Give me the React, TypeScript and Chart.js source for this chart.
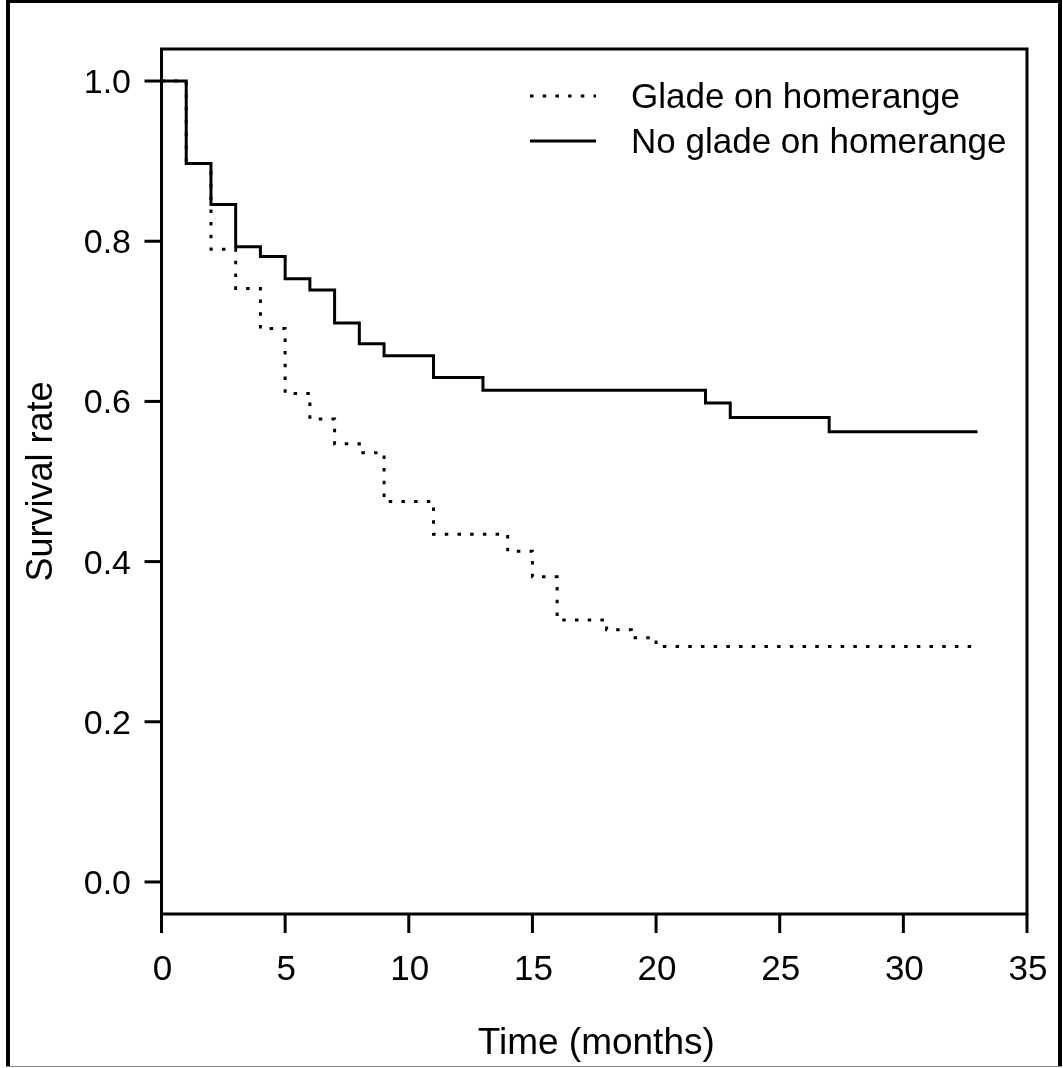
import { useEffect, useRef } from "react";
import { Chart, registerables } from "chart.js";

Chart.register(...registerables);

const noGladeTimes = [0, 1, 2, 3, 4, 5, 6, 7, 8, 9, 11, 13, 22, 23, 27, 33];
const noGladeSurvival = [1, 0.897, 0.846, 0.793, 0.781, 0.753, 0.739, 0.698, 0.672, 0.657, 0.63, 0.614, 0.598, 0.58, 0.562, 0.562];
const gladeTimes = [0, 1, 2, 3, 4, 5, 6, 7, 8, 9, 11, 14, 15, 16, 18, 19, 20, 33];
const gladeSurvival = [1, 0.897, 0.79, 0.741, 0.691, 0.61, 0.578, 0.547, 0.536, 0.475, 0.434, 0.413, 0.381, 0.327, 0.315, 0.305, 0.294, 0.294];
const xTicks = [0, 5, 10, 15, 20, 25, 30, 35];
const yTicks = [0, 0.2, 0.4, 0.6, 0.8, 1.0];
const yTickLabels = ["0.0", "0.2", "0.4", "0.6", "0.8", "1.0"];
const seriesLabels = ["Glade on homerange", "No glade on homerange"];
const xTitle = "Time (months)";
const yTitle = "Survival rate";

const FAMILY = "'Liberation Sans', Arial, sans-serif";

const rPlot = {
  id: "rPlot",
  afterDraw(chart: any) {
    const ctx = chart.ctx as CanvasRenderingContext2D;
    const { left, right, top, bottom } = chart.chartArea;
    const xs = chart.scales.x;
    const ys = chart.scales.y;
    ctx.save();
    ctx.strokeStyle = "#000";
    ctx.fillStyle = "#000";
    ctx.lineWidth = 3;
    ctx.lineCap = "butt";
    ctx.setLineDash([]);
    // box
    ctx.strokeRect(left, top, right - left, bottom - top);
    // y ticks
    ctx.font = "34px " + FAMILY;
    ctx.textAlign = "right";
    ctx.textBaseline = "alphabetic";
    yTicks.forEach((v, i) => {
      const y = ys.getPixelForValue(v);
      ctx.beginPath();
      ctx.moveTo(left - 17, y);
      ctx.lineTo(left, y);
      ctx.stroke();
      ctx.fillText(yTickLabels[i], 131, y + 12);
    });
    // x ticks
    ctx.textAlign = "center";
    ctx.font = "35px " + FAMILY;
    xTicks.forEach((v) => {
      const x = xs.getPixelForValue(v);
      ctx.beginPath();
      ctx.moveTo(x, bottom);
      ctx.lineTo(x, bottom + 19);
      ctx.stroke();
      ctx.fillText(String(v), x + 1, 980);
    });
    // titles
    ctx.font = "37px " + FAMILY;
    ctx.fillText(xTitle, (left + right) / 2 + 2, 1054);
    ctx.save();
    ctx.font = "36px " + FAMILY;
    ctx.translate(52, (top + bottom) / 2);
    ctx.rotate(-Math.PI / 2);
    ctx.textAlign = "center";
    ctx.fillText(yTitle, 0, 0);
    ctx.restore();
    // legend
    const legY = [96, 141];
    ctx.font = "35px " + FAMILY;
    ctx.textAlign = "left";
    legY.forEach((y, i) => {
      ctx.beginPath();
      ctx.setLineDash(i === 0 ? [3.5, 9.2] : []);
      ctx.moveTo(530, y);
      ctx.lineTo(596, y);
      ctx.stroke();
      ctx.setLineDash([]);
      ctx.fillText(seriesLabels[i], 631, y + 12);
    });
    // outer frame
    ctx.fillStyle = "#000";
    ctx.fillRect(6, 0, 4, 1066);
    ctx.fillRect(6, 0, 1056, 3);
    ctx.fillRect(1058, 0, 4, 1066);
    ctx.fillStyle = "#888";
    ctx.fillRect(6, 1066, 1056, 1);
    ctx.restore();
  },
};

export default function App() {
  const ref = useRef<HTMLCanvasElement | null>(null);
  useEffect(() => {
    if (!ref.current) return;
    const chart = new Chart(ref.current, {
      type: "line",
      data: {
        datasets: [
          {
            label: seriesLabels[0],
            data: gladeTimes.map((t, i) => ({ x: t, y: gladeSurvival[i] })),
            borderColor: "#000",
            borderWidth: 3,
            borderDash: [3.5, 9.2],
            borderCapStyle: "butt",
            stepped: "before",
            pointRadius: 0,
            fill: false,
          },
          {
            label: seriesLabels[1],
            data: noGladeTimes.map((t, i) => ({ x: t, y: noGladeSurvival[i] })),
            borderColor: "#000",
            borderWidth: 3,
            borderCapStyle: "butt",
            borderJoinStyle: "miter",
            stepped: "before",
            pointRadius: 0,
            fill: false,
          },
        ],
      },
      options: {
        animation: false,
        responsive: false,
        layout: { padding: { left: 161.5, right: 36, top: 49, bottom: 154 } },
        scales: {
          x: { type: "linear", min: 0, max: 35, display: false },
          y: { type: "linear", min: -0.04, max: 1.04, display: false },
        },
        plugins: { legend: { display: false }, tooltip: { enabled: false } },
      },
      plugins: [rPlot],
    } as any);
    return () => chart.destroy();
  }, []);
  return (
    <div style={{ position: "fixed", left: 0, top: 0, width: 1063, height: 1068, background: "#fff" }}>
      <canvas ref={ref} width={1063} height={1068} style={{ display: "block" }} />
    </div>
  );
}
